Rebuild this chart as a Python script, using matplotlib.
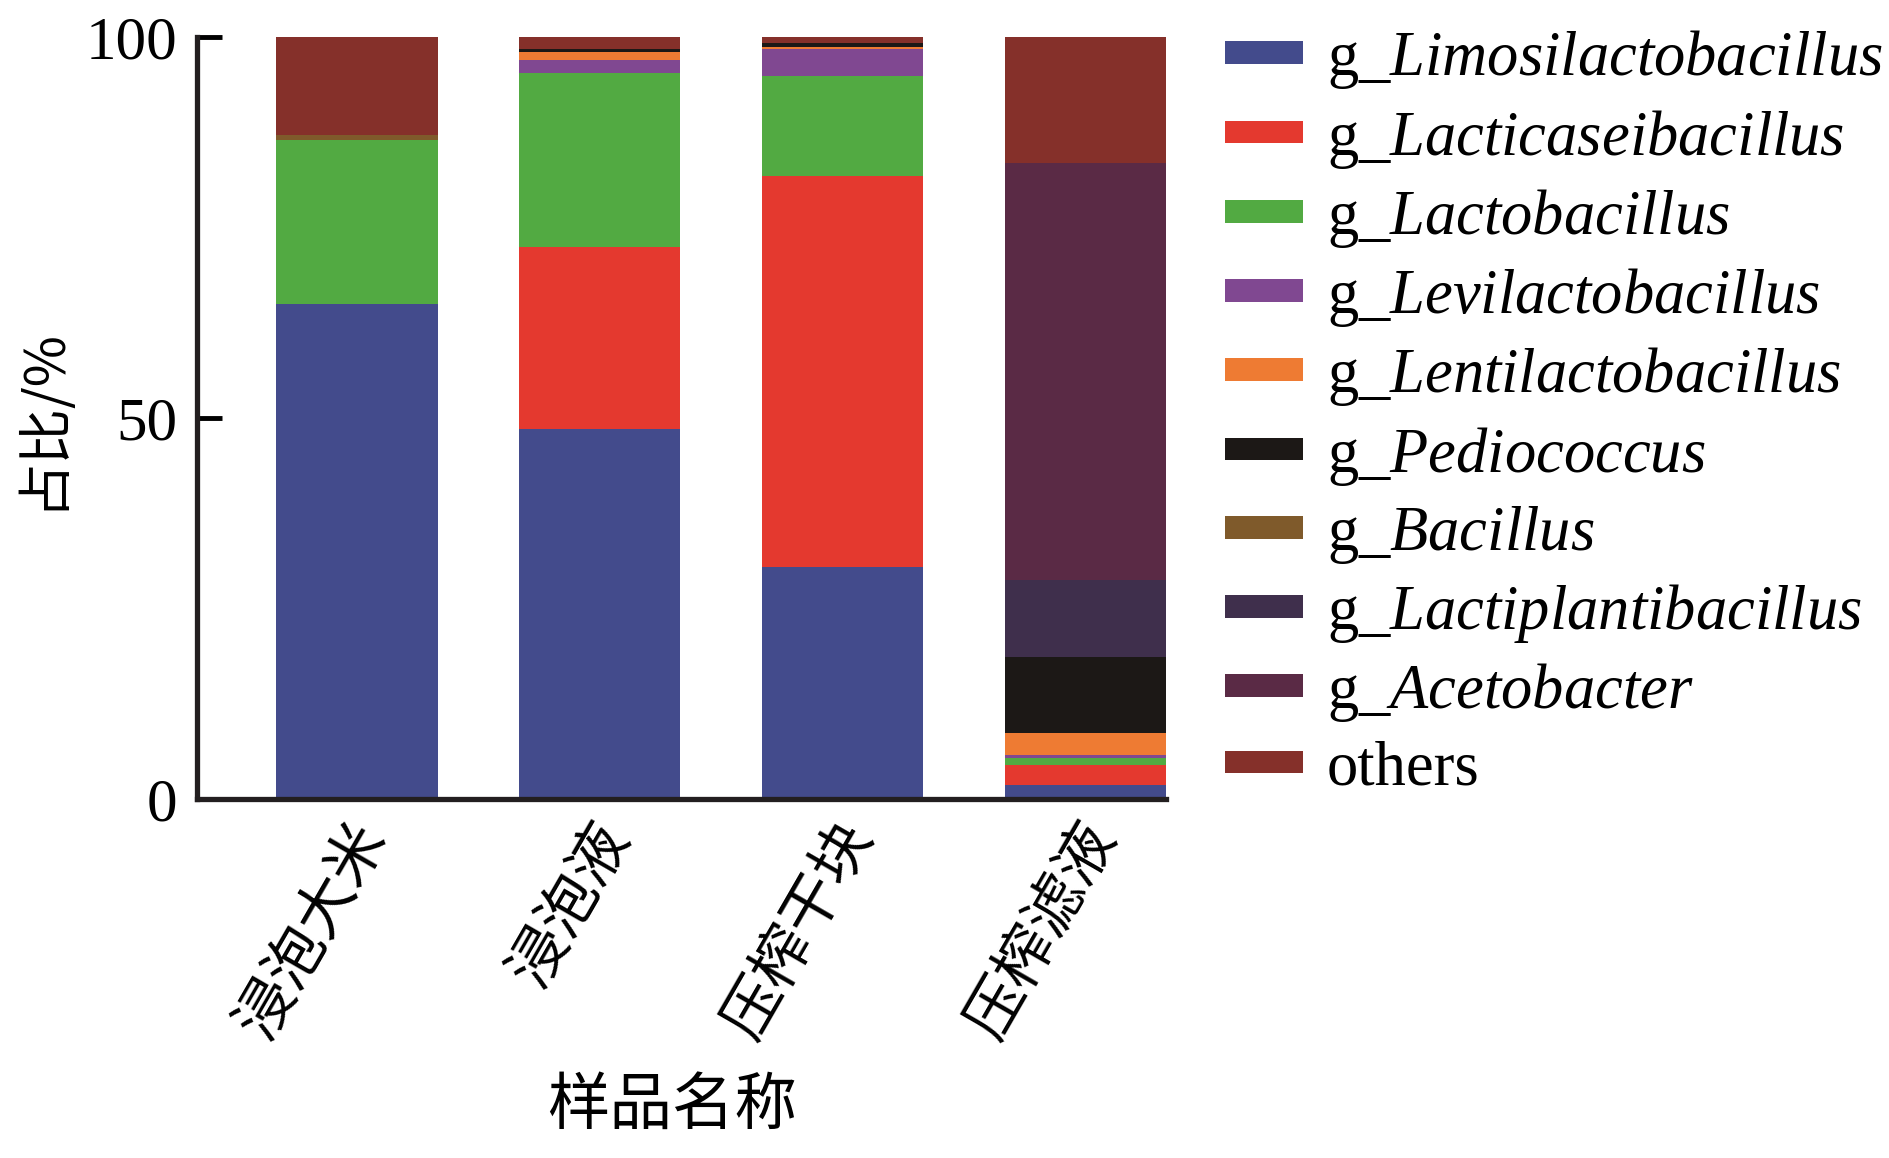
import numpy as np
import matplotlib

matplotlib.use('Agg')
import matplotlib.pyplot as plt
import matplotlib.transforms as mtransforms
from matplotlib.patches import Patch

plt.rcParams['font.family'] = ['Liberation Serif', 'Noto Sans CJK SC']
plt.rcParams['mathtext.fontset'] = 'custom'
plt.rcParams['mathtext.rm'] = 'Liberation Serif'
plt.rcParams['mathtext.it'] = 'Liberation Serif:italic'

samples = ['浸泡大米', '浸泡液', '压榨干块', '压榨滤液']
genera = ['Limosilactobacillus', 'Lacticaseibacillus', 'Lactobacillus', 'Levilactobacillus',
          'Lentilactobacillus', 'Pediococcus', 'Bacillus', 'Lactiplantibacillus', 'Acetobacter',
          'others']

# relative abundance (%) per sample
limosilactobacillus = [65.0, 48.6, 30.4, 1.9]
lacticaseibacillus = [0.0, 23.8, 51.3, 2.5]
lactobacillus = [21.5, 22.9, 13.2, 1.0]
levilactobacillus = [0.0, 1.7, 3.5, 0.4]
lentilactobacillus = [0.0, 1.0, 0.35, 2.8]
pediococcus = [0.0, 0.4, 0.45, 10.1]
bacillus = [0.7, 0.0, 0.0, 0.0]
lactiplantibacillus = [0.0, 0.0, 0.0, 10.1]
acetobacter = [0.0, 0.0, 0.0, 54.7]
others = [12.8, 1.6, 0.8, 16.5]

colors = ['#434B8C', '#E4392F', '#52AA42', '#804891', '#EE7B33',
          '#1C1816', '#7F5A2B', '#3F2F4C', '#5A2A45', '#85302A']

series = [limosilactobacillus, lacticaseibacillus, lactobacillus, levilactobacillus,
          lentilactobacillus, pediococcus, bacillus, lactiplantibacillus, acetobacter, others]

fig = plt.figure(figsize=(18.9, 11.58), dpi=100)
ax = fig.add_axes([0.104, 0.310, 0.513, 0.658])

x = np.arange(len(samples))
bottom = np.zeros(len(samples))
for vals, c in zip(series, colors):
    ax.bar(x, vals, width=0.665, bottom=bottom, color=c, linewidth=0)
    bottom += np.array(vals)

ax.set_xlim(-0.66, 3.333)
ax.set_ylim(0, 100)
ax.set_yticks([0, 50, 100])
ax.tick_params(axis='y', direction='in', length=18, width=3.5, labelsize=44, pad=14)
ax.tick_params(axis='x', length=0, pad=20)
for s in ['top', 'right']:
    ax.spines[s].set_visible(False)
for s in ['left', 'bottom']:
    ax.spines[s].set_linewidth(3.8)
    ax.spines[s].set_color('#231F20')

ax.set_xticks(x)
ax.set_xticklabels(samples, rotation=60, ha='right', va='center', rotation_mode='anchor',
                   family='Noto Sans CJK SC', fontsize=43)
shift = mtransforms.ScaledTranslation(0.16, 0, fig.dpi_scale_trans)
for lab in ax.get_xticklabels():
    lab.set_transform(lab.get_transform() + shift)

ax.set_xlabel('样品名称', family='Noto Sans CJK SC', fontsize=45)
ax.xaxis.set_label_coords(0.49, -0.36)
ax.set_ylabel('占比/%', family=['Noto Sans CJK SC'], fontsize=40)
ax.yaxis.set_label_coords(-0.13, 0.5)

labels = ['g_$\\mathit{%s}$' % g for g in genera[:-1]] + ['others']
handles = [Patch(facecolor=c, edgecolor='none') for c in colors]
fig.legend(handles, labels, loc='upper left', bbox_to_anchor=(0.635, 0.997), frameon=False,
           fontsize=45, handlelength=1.25, handleheight=0.18, handletextpad=0.38,
           labelspacing=0.26, borderaxespad=0)

plt.savefig('out.png', dpi=100)
